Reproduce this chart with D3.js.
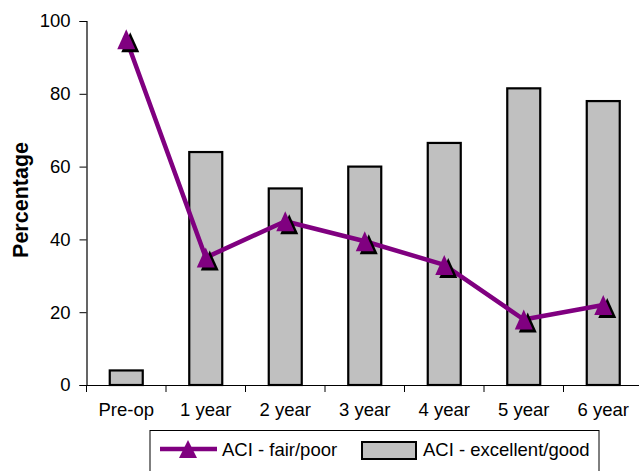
<!DOCTYPE html>
<html>
<head>
<meta charset="utf-8">
<script src="https://cdn.jsdelivr.net/npm/d3@7"></script>
<style>
  html, body { margin: 0; padding: 0; background: #fff; }
  svg { display: block; font-family: "Liberation Sans", Arial, sans-serif; }
</style>
</head>
<body>
<svg id="chart" width="639" height="471"></svg>
<script>
// Follow-up categories
const categories = ["Pre-op", "1 year", "2 year", "3 year", "4 year", "5 year", "6 year"];
// ACI - excellent/good (%), drawn as bars
const excellentGood = [4, 64, 54, 60, 66.5, 81.5, 78];
// ACI - fair/poor (%), drawn as line with triangle markers
const fairPoor = [95, 35, 45, 39.5, 33, 18, 22];
// Y axis ticks
const yTicks = [0, 20, 40, 60, 80, 100];

const svg = d3.select("#chart");
const plotLeft = 86.5, plotTop = 21, plotBottom = 385;
const step = 79.5;
const plotRight = plotLeft + step * categories.length;
const fontSize = 18.5;

const x = d3.scaleBand().domain(categories).range([plotLeft, plotRight]).paddingInner(0).paddingOuter(0);
const y = d3.scaleLinear().domain([0, 100]).range([plotBottom, plotTop]);
const barW = x.bandwidth() * 0.415;
const cx = d => x(d) + x.bandwidth() / 2;

// Bars
svg.append("g").selectAll("rect").data(categories).join("rect")
  .attr("x", d => cx(d) - barW / 2)
  .attr("y", (d, i) => y(excellentGood[i]))
  .attr("width", barW)
  .attr("height", (d, i) => y(0) - y(excellentGood[i]))
  .attr("fill", "#c0c0c0")
  .attr("stroke", "#000")
  .attr("stroke-width", 2.2);

// Y axis
const yAxis = svg.append("g")
  .attr("transform", `translate(${plotLeft},0)`)
  .call(d3.axisLeft(y).tickValues(yTicks).tickSize(7).tickPadding(9));
yAxis.select(".domain").attr("stroke", "#000").attr("stroke-width", 1.2);
yAxis.selectAll(".tick line").attr("stroke", "#000");
yAxis.selectAll("text").attr("font-size", fontSize).attr("fill", "#000")
  .attr("font-family", "Liberation Sans, Arial, sans-serif");

// X axis
const xAxis = svg.append("g")
  .attr("transform", `translate(0,${plotBottom})`)
  .call(d3.axisBottom(x).tickSize(0).tickPadding(18));
xAxis.select(".domain").attr("stroke", "#000").attr("stroke-width", 1.2);
xAxis.selectAll("text").attr("font-size", fontSize).attr("fill", "#000")
  .attr("font-family", "Liberation Sans, Arial, sans-serif");
// Boundary ticks between categories
svg.append("g").selectAll("line")
  .data(d3.range(categories.length + 1))
  .join("line")
  .attr("x1", i => plotLeft + i * step)
  .attr("x2", i => plotLeft + i * step)
  .attr("y1", plotBottom)
  .attr("y2", plotBottom + 7)
  .attr("stroke", "#000");

// Y title
svg.append("text")
  .attr("transform", `translate(28,200) rotate(-90)`)
  .attr("text-anchor", "middle")
  .attr("font-size", 21.5)
  .attr("font-weight", "bold")
  .text("Percentage");

// Line
const line = d3.line().x((d, i) => cx(categories[i])).y(d => y(d));
svg.append("path")
  .datum(fairPoor)
  .attr("d", line)
  .attr("fill", "none")
  .attr("stroke", "#800080")
  .attr("stroke-width", 4.5)
  .attr("stroke-linejoin", "round");

// Triangle markers with dark shadow
const tri = (w, h) => `M0,${-h / 2}L${w / 2},${h / 2}L${-w / 2},${h / 2}Z`;
const markers = svg.append("g");
markers.selectAll("path.shadow").data(fairPoor).join("path")
  .attr("class", "shadow")
  .attr("d", tri(18, 20))
  .attr("transform", (d, i) => `translate(${cx(categories[i]) + 4},${y(d) + 3})`)
  .attr("fill", "#000");
markers.selectAll("path.mark").data(fairPoor).join("path")
  .attr("class", "mark")
  .attr("d", tri(18, 20))
  .attr("transform", (d, i) => `translate(${cx(categories[i])},${y(d)})`)
  .attr("fill", "#800080");

// Legend
const lg = svg.append("g");
lg.append("rect")
  .attr("x", 150).attr("y", 430.5).attr("width", 449).attr("height", 50)
  .attr("fill", "#fff").attr("stroke", "#000").attr("stroke-width", 1);
lg.append("line")
  .attr("x1", 160).attr("x2", 217).attr("y1", 449).attr("y2", 449)
  .attr("stroke", "#800080").attr("stroke-width", 4.5);
lg.append("path")
  .attr("d", tri(18, 18))
  .attr("transform", "translate(188,449)")
  .attr("fill", "#800080");
lg.append("text")
  .attr("x", 222).attr("y", 456)
  .attr("font-size", fontSize)
  .text("ACI - fair/poor");
lg.append("rect")
  .attr("x", 362).attr("y", 442).attr("width", 54).attr("height", 17)
  .attr("fill", "#c0c0c0").attr("stroke", "#000").attr("stroke-width", 2);
lg.append("text")
  .attr("x", 423).attr("y", 456)
  .attr("font-size", fontSize)
  .text("ACI - excellent/good");
</script>
</body>
</html>
